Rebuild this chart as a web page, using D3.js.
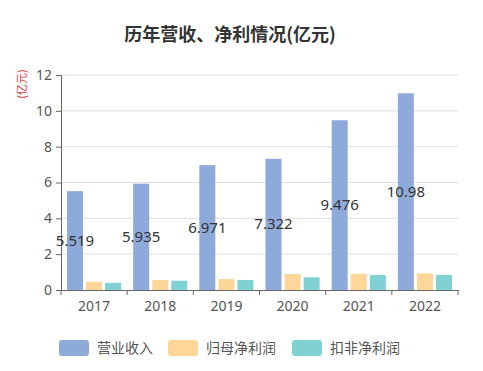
<!DOCTYPE html>
<html><head><meta charset="utf-8">
<script src="https://cdn.jsdelivr.net/npm/d3@7"></script>
<style>body{margin:0;background:#fff;}svg{display:block;font-family:"Microsoft YaHei","Noto Sans CJK SC",sans-serif;}</style>
</head><body><svg id="c" width="483" height="371"></svg>
<script>
const years = ["2017","2018","2019","2020","2021","2022"];
const seriesNames = ["营业收入","归母净利润","扣非净利润"];
const revenue = [5.519, 5.935, 6.971, 7.322, 9.476, 10.98];
const netProfit = [0.45, 0.56, 0.61, 0.89, 0.91, 0.93];
const deductedProfit = [0.40, 0.52, 0.56, 0.71, 0.84, 0.84];
const yTicks = [0, 2, 4, 6, 8, 10, 12];
const colors = ["#8eaadb", "#ffd699", "#7fd1d3"];
const series = [revenue, netProfit, deductedProfit];

(function () {
const svg = d3.select("#c");
const mLeft = 61, mRight = 458, mTop = 75, mBottom = 290;
const x = d3.scaleBand().domain(years).range([mLeft, mRight]).paddingInner(0).paddingOuter(0);
const y = d3.scaleLinear().domain([0, 12]).range([mBottom, mTop]);
const inner = d3.scaleBand().domain(d3.range(3)).range([6, x.bandwidth() - 6]).paddingInner(0.16);

svg.append("text").attr("x", 230).attr("y", 41).attr("text-anchor", "middle")
  .attr("font-size", 18).attr("font-weight", "bold").attr("fill", "#333").text("历年营收、净利情况(亿元)");

// grid
svg.append("g").selectAll("line").data(yTicks.filter(d => d > 0)).join("line")
  .attr("x1", mLeft).attr("x2", mRight).attr("y1", d => y(d)).attr("y2", d => y(d))
  .attr("stroke", "#e0e0e0").attr("stroke-width", 1);

// y axis
const ya = svg.append("g").attr("transform", `translate(${mLeft},0)`)
  .call(d3.axisLeft(y).tickValues(yTicks).tickSize(5).tickPadding(4).tickFormat(d3.format("d")));
ya.select(".domain").attr("stroke", "#666");
ya.selectAll(".tick line").attr("stroke", "#666");
ya.selectAll("text").attr("font-size", 14).attr("fill", "#555").attr("font-family", "Noto Sans, sans-serif");

// bars
series.forEach((vals, si) => {
  svg.append("g").selectAll("rect").data(vals).join("rect")
    .attr("x", (d, i) => x(years[i]) + inner(si))
    .attr("width", inner.bandwidth())
    .attr("y", d => y(d)).attr("height", d => mBottom - y(d))
    .attr("fill", colors[si]);
});

// labels
svg.append("g").selectAll("text").data(revenue).join("text")
  .attr("x", (d, i) => x(years[i]) + inner(0) + inner.bandwidth() / 2)
  .attr("y", d => (y(d) + mBottom) / 2 + 5)
  .attr("text-anchor", "middle").attr("font-size", 15).attr("fill", "#333")
  .attr("font-family", "Noto Sans, sans-serif")
  .text(d => d);

// x axis
const xa = svg.append("g").attr("transform", `translate(0,${mBottom})`)
  .call(d3.axisBottom(x).tickSize(0).tickPadding(8));
xa.select(".domain").attr("stroke", "#666");
xa.selectAll("text").attr("font-size", 14).attr("fill", "#555").attr("dy", "0.9em").attr("font-family", "Noto Sans, sans-serif");
svg.append("g").selectAll("line").data(d3.range(years.length + 1)).join("line")
  .attr("x1", i => mLeft + i * x.bandwidth()).attr("x2", i => mLeft + i * x.bandwidth())
  .attr("y1", mBottom).attr("y2", mBottom + 5).attr("stroke", "#666");

// y axis name
svg.append("text").attr("transform", "translate(26,84) rotate(-90)")
  .attr("text-anchor", "middle").attr("font-size", 11).attr("fill", "#d9363e").text("(亿元)");

// legend
const lx = [59, 168, 292];
seriesNames.forEach((n, i) => {
  svg.append("rect").attr("x", lx[i]).attr("y", 340).attr("width", 30).attr("height", 16).attr("rx", 3).attr("fill", colors[i]);
  svg.append("text").attr("x", lx[i] + 38).attr("y", 353).attr("font-size", 14).attr("fill", "#555").text(n);
});
})();
</script></body></html>
